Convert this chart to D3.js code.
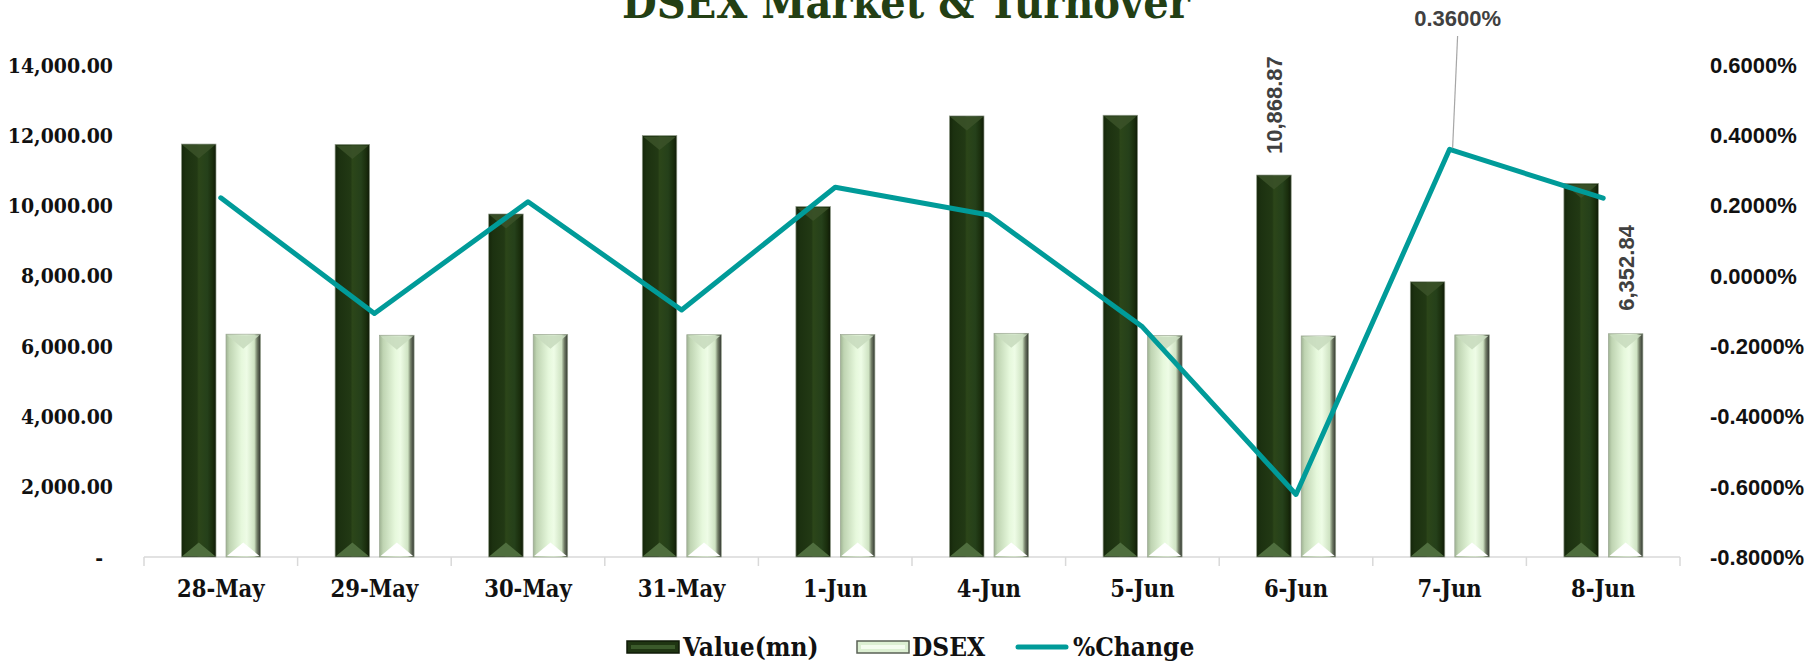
<!DOCTYPE html>
<html>
<head>
<meta charset="utf-8">
<script src="https://cdn.jsdelivr.net/npm/d3@7"></script>
<style>
    body { margin: 0; background: #fff; }
    .slab { font-family: "DejaVu Serif Condensed", "DejaVu Serif", serif; font-stretch: condensed; font-weight: bold; }
    .sans { font-family: "Liberation Sans", Arial, sans-serif; font-weight: bold; }
</style>
</head>
<body>
<div id="chart"></div>
<script>
'use strict';

// Data
const dates = ['28-May', '29-May', '30-May', '31-May', '1-Jun', '4-Jun', '5-Jun', '6-Jun', '7-Jun', '8-Jun'];
const turnover = [11750, 11740, 9760, 11990, 9970, 12550, 12570, 10868.87, 7830, 10630];
const dsex = [6340, 6310, 6335, 6325, 6330, 6365, 6300, 6290, 6320, 6352.84];
const pctChange = [0.222, -0.107, 0.211, -0.097, 0.252, 0.173, -0.145, -0.622, 0.36, 0.221];
const leftTicks = [0, 2000, 4000, 6000, 8000, 10000, 12000, 14000];
const rightTicks = [-0.8, -0.6, -0.4, -0.2, 0, 0.2, 0.4, 0.6];

/* Class: TurnoverChart */
class TurnoverChart {

    constructor(_parent) {
        this.parent = _parent;
        this.initVis();
    }

    initVis() {
        const vis = this;

        vis.w = 1811;
        vis.h = 664;

        vis.svg = d3.select(`#${vis.parent}`)
            .append('svg')
            .attr('width', vis.w)
            .attr('height', vis.h);

        // Plot area
        vis.left = 144;
        vis.right = 1680;
        vis.top = 65;
        vis.bottom = 557;

        // Scales
        vis.x = d3.scaleBand().domain(dates).range([vis.left, vis.right]).padding(0);
        vis.xSub = d3.scaleBand().domain(['Value', 'DSEX'])
            .range([37.5, 116.5]).paddingInner(0.225).paddingOuter(0);
        vis.yL = d3.scaleLinear().domain([0, 14000]).range([vis.bottom, vis.top]);
        vis.yR = d3.scaleLinear().domain([-0.8, 0.6]).range([vis.bottom, vis.top]);

        vis.makeDefs();
        vis.updateVis();
    }

    makeDefs() {
        const vis = this;
        const defs = vis.svg.append('defs');

        const grad = (id, stops) => {
            const g = defs.append('linearGradient').attr('id', id)
                .attr('x1', '0%').attr('x2', '100%').attr('y1', '0%').attr('y2', '0%');
            stops.forEach(s => g.append('stop').attr('offset', s[0]).attr('stop-color', s[1]));
        };

        grad('gDark', [
            ['0%', '#15260a'], ['12%', '#1c3110'], ['45%', '#223914'],
            ['50%', '#2c4619'], ['75%', '#25401a'], ['90%', '#1a2e0d'], ['100%', '#0f1a07']
        ]);
        grad('gLight', [
            ['0%', '#9fb393'], ['10%', '#bfd4b2'], ['45%', '#e6f8dc'],
            ['60%', '#eefce6'], ['82%', '#cfe3c3'], ['90%', '#748069'], ['100%', '#2f332d']
        ]);
    }

    // Bevelled bar
    drawBar(g, x, y, w, h, kind) {
        const dark = kind === 'Value';
        const t = Math.min(w * 0.42, h / 2);
        g.append('rect')
            .attr('x', x).attr('y', y).attr('width', w).attr('height', h)
            .attr('fill', dark ? 'url(#gDark)' : 'url(#gLight)')
            .attr('stroke', dark ? '#8e9986' : '#9aa692')
            .attr('stroke-width', 0.7);
        g.append('path')
            .attr('d', `M${x + 1},${y + 1}L${x + w - 1},${y + 1}L${x + w / 2},${y + t}Z`)
            .attr('fill', dark ? '#3a5128' : '#c9dcbf')
            .attr('opacity', 0.9);
        g.append('path')
            .attr('d', `M${x + 1},${y + h - 1}L${x + w - 1},${y + h - 1}L${x + w / 2},${y + h - t}Z`)
            .attr('fill', dark ? '#4f6e3e' : '#ffffff');
    }

    updateVis() {
        const vis = this;

        // Title
        vis.svg.append('text')
            .attr('class', 'slab')
            .attr('x', 906).attr('y', 18)
            .attr('text-anchor', 'middle')
            .attr('font-size', 44.5)
            .attr('fill', '#233f14')
            .text('DSEX Market & Turnover');

        // X axis line + ticks
        const axisG = vis.svg.append('g');
        axisG.append('line')
            .attr('x1', vis.left).attr('x2', vis.right)
            .attr('y1', vis.bottom).attr('y2', vis.bottom)
            .attr('stroke', '#d9d9d9').attr('stroke-width', 1.5);
        const edges = dates.map(d => vis.x(d)).concat([vis.right]);
        axisG.selectAll('.tk').data(edges).join('line')
            .attr('x1', d => d).attr('x2', d => d)
            .attr('y1', vis.bottom).attr('y2', vis.bottom + 9)
            .attr('stroke', '#d9d9d9').attr('stroke-width', 1.5);

        // Left labels
        vis.svg.append('g').selectAll('text').data(leftTicks).join('text')
            .attr('class', 'slab')
            .attr('x', d => d === 0 ? 103 : 113)
            .attr('y', d => vis.yL(d))
            .attr('dy', '0.36em')
            .attr('text-anchor', 'end')
            .attr('font-size', 21)
            .attr('fill', '#111')
            .style('font-stretch', 'normal')
            .attr('font-family', 'DejaVu Serif')
            .text(d => d === 0 ? '-' : d3.format(',.2f')(d));

        // Right labels
        vis.svg.append('g').selectAll('text').data(rightTicks).join('text')
            .attr('class', 'sans')
            .attr('x', 1710)
            .attr('y', d => vis.yR(d))
            .attr('dy', '0.36em')
            .attr('font-size', 22)
            .attr('fill', '#111')
            .text(d => d.toFixed(4) + '%');

        // X labels
        vis.svg.append('g').selectAll('text').data(dates).join('text')
            .attr('class', 'slab')
            .attr('x', d => vis.x(d) + vis.x.bandwidth() / 2)
            .attr('y', 597)
            .attr('text-anchor', 'middle')
            .attr('font-size', 23.5)
            .attr('fill', '#111')
            .text(d => d);

        // Bars
        const barsG = vis.svg.append('g');
        dates.forEach((d, i) => {
            [['Value', turnover[i], vis.yL], ['DSEX', dsex[i], vis.yL]].forEach(s => {
                const bx = vis.x(d) + vis.xSub(s[0]);
                const by = s[2](s[1]);
                vis.drawBar(barsG, bx, by, vis.xSub.bandwidth(), vis.bottom - by, s[0]);
            });
        });

        // Line
        const line = d3.line()
            .x((d, i) => vis.x(dates[i]) + vis.x.bandwidth() / 2)
            .y(d => vis.yR(d));
        vis.svg.append('path')
            .datum(pctChange)
            .attr('d', line)
            .attr('fill', 'none')
            .attr('stroke', '#009b99')
            .attr('stroke-width', 5)
            .attr('stroke-linejoin', 'round')
            .attr('stroke-linecap', 'round');

        // Data labels
        const i6 = dates.indexOf('6-Jun');
        const x6 = vis.x(dates[i6]) + vis.xSub('Value') + vis.xSub.bandwidth() / 2;
        vis.svg.append('text')
            .attr('class', 'sans')
            .attr('transform', `translate(${x6 + 8},${vis.yL(turnover[i6]) - 21}) rotate(-90)`)
            .attr('font-size', 22).attr('fill', '#404040')
            .text(d3.format(',.2f')(turnover[i6]));

        const i8 = dates.indexOf('8-Jun');
        const x8 = vis.x(dates[i8]) + vis.xSub('DSEX') + vis.xSub.bandwidth() / 2;
        vis.svg.append('text')
            .attr('class', 'sans')
            .attr('transform', `translate(${x8 + 8},${vis.yL(dsex[i8]) - 23}) rotate(-90)`)
            .attr('font-size', 22).attr('fill', '#404040')
            .text(d3.format(',.2f')(dsex[i8]));

        const i7 = dates.indexOf('7-Jun');
        const x7 = vis.x(dates[i7]) + vis.x.bandwidth() / 2;
        vis.svg.append('line')
            .attr('x1', x7 + 8).attr('y1', 36)
            .attr('x2', x7 + 3).attr('y2', vis.yR(pctChange[i7]) - 1)
            .attr('stroke', '#a6a6a6').attr('stroke-width', 1.2);
        vis.svg.append('text')
            .attr('class', 'sans')
            .attr('x', x7 + 8).attr('y', 26)
            .attr('text-anchor', 'middle')
            .attr('font-size', 22).attr('fill', '#404040')
            .text(pctChange[i7].toFixed(4) + '%');

        // Legend
        const legG = vis.svg.append('g');
        const ly = 647;
        vis.drawLegendSwatch(legG, 627, ly - 6, 52, 12, 'Value');
        legG.append('text').attr('class', 'slab').attr('x', 683).attr('y', ly + 9)
            .attr('font-size', 26).attr('fill', '#111').text('Value(mn)');
        vis.drawLegendSwatch(legG, 857, ly - 6, 52, 12, 'DSEX');
        legG.append('text').attr('class', 'slab').attr('x', 912).attr('y', ly + 9)
            .attr('font-size', 26).attr('fill', '#111').text('DSEX');
        legG.append('line').attr('x1', 1018).attr('x2', 1066).attr('y1', ly).attr('y2', ly)
            .attr('stroke', '#009b99').attr('stroke-width', 5).attr('stroke-linecap', 'round');
        legG.append('text').attr('class', 'slab').attr('x', 1073).attr('y', ly + 9)
            .attr('font-size', 26).attr('fill', '#111').text('%Change');
    }

    drawLegendSwatch(g, x, y, w, h, kind) {
        const dark = kind === 'Value';
        g.append('rect').attr('x', x).attr('y', y).attr('width', w).attr('height', h)
            .attr('fill', dark ? '#1f3512' : '#dcefd2')
            .attr('stroke', dark ? '#0f1a07' : '#5a6155').attr('stroke-width', 1.5);
        g.append('rect').attr('x', x + 4).attr('y', y + 4).attr('width', w - 8).attr('height', h - 8)
            .attr('fill', dark ? '#3b5a2b' : '#f4fcef');
    }
}

new TurnoverChart('chart');
</script>
</body>
</html>
